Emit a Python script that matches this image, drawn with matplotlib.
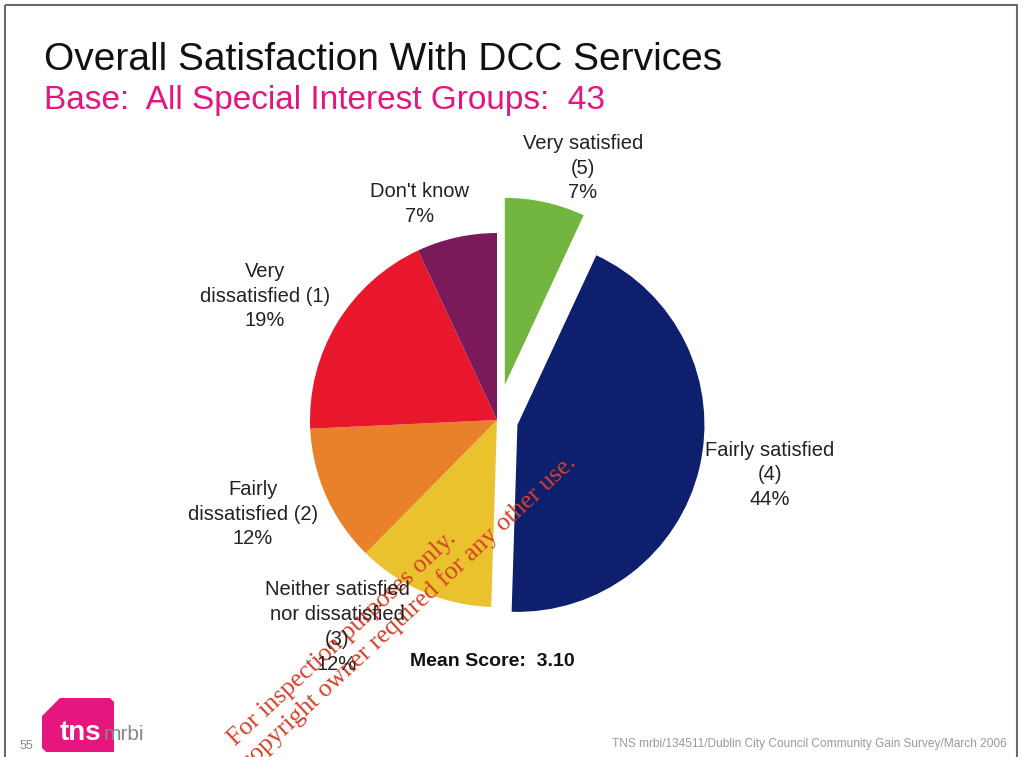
import matplotlib
matplotlib.use("Agg")
import matplotlib.pyplot as plt
from matplotlib.patches import Polygon, Rectangle

W, H = 1023, 757

# Survey responses (share of respondents, %)
categories = ["Very satisfied\n(5)", "Fairly satisfied\n(4)",
              "Neither satisfied\nnor dissatisfied\n(3)",
              "Fairly\ndissatisfied (2)", "Very\ndissatisfied (1)", "Don't know"]
shares = [7, 44, 12, 12, 19, 7]
colors = ["#72b53f", "#0d1f6d", "#e9c22d", "#e9812b", "#e8172c", "#7a1a5a"]
explode_px = [36, 21, 0, 0, 0, 0]
label_pos = [(583, 168), (770, 475), (337, 627), (253, 514), (265, 296), (420, 204)]
mean_score = 3.10

fig = plt.figure(figsize=(W / 100, H / 100), dpi=100)
fig.patch.set_facecolor("white")

def fp(x, y):
    return x / W, 1 - y / H

# Pie drawn in units of its own radius
cx, cy, R = 497, 420, 187
ax = fig.add_axes([0, 0, 1, 1])
ax.pie(shares, colors=colors, startangle=90, counterclock=False,
       explode=[e / R for e in explode_px], radius=1.0,
       wedgeprops=dict(linewidth=0))
ax.set_xlim(-cx / R, (W - cx) / R)
ax.set_ylim(-(H - cy) / R, cy / R)
ax.set_aspect("equal")
ax.axis("off")

font = "Liberation Sans"
for lab, val, (x, y) in zip(categories, shares, label_pos):
    fig.text(*fp(x, y), f"{lab}\n{val}%", ha="center", va="center",
             fontsize=14.5, family=font, color="#222222", linespacing=1.38)

fig.text(*fp(410, 661), f"Mean Score:  {mean_score:.2f}", ha="left", va="center",
         fontsize=14, family=font, weight="bold", color="#111111")

# Titles
fig.text(*fp(44, 60), "Overall Satisfaction With DCC Services", ha="left", va="center",
         fontsize=28, family=font, color="#111111")
fig.text(*fp(44, 101), "Base:  All Special Interest Groups:  43", ha="left", va="center",
         fontsize=24, family=font, color="#e4157f")

# Footer
fig.text(*fp(1007, 744), "TNS mrbi/134511/Dublin City Council Community Gain Survey/March 2006",
         ha="right", va="center", fontsize=8.6, family=font, color="#9a9a9a")
fig.text(*fp(20, 746), "55", ha="left", va="center", fontsize=9, family=font, color="#888888")

# Logo
ov = fig.add_axes([0, 0, 1, 1], facecolor="none")
ov.set_xlim(0, W)
ov.set_ylim(H, 0)
ov.axis("off")
logo = Polygon([(60, 698), (110, 698), (114, 702), (114, 752), (46, 752), (42, 748),
                (42, 716)], closed=True, facecolor="#e5177e", edgecolor="none")
ov.add_patch(logo)
ov.text(60, 733, "tns", ha="left", va="center", fontsize=20, weight="bold",
        family=font, color="white")
ov.text(104, 735, "mrbi", ha="left", va="center", fontsize=15, family=font, color="#888888")

# Slide frame
ov.add_patch(Rectangle((5, 5), 1012, 770, fill=False, edgecolor="#6a6a6a", linewidth=1.5))

# Watermark
wm_color = "#d6402a"
ov.text(457, 540, "For inspection purposes only.", rotation=43, rotation_mode="anchor",
        ha="right", va="baseline", fontsize=18.5, family="Liberation Serif", color=wm_color)
ov.text(577, 464, "Consent of copyright owner required for any other use.", rotation=43,
        rotation_mode="anchor", ha="right", va="baseline", fontsize=18.5,
        family="Liberation Serif", color=wm_color)

fig.savefig("out.png", dpi=100)
